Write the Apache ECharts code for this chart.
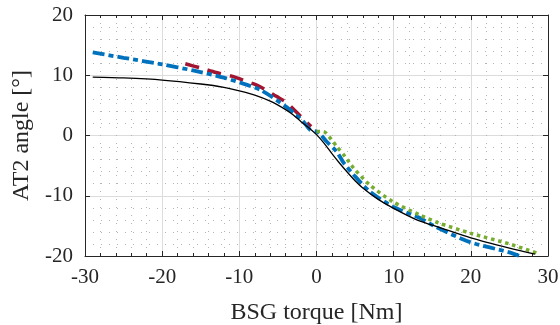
<!DOCTYPE html>
<html>
<head>
<meta charset="utf-8">
<script src="https://cdn.jsdelivr.net/npm/echarts@6/dist/echarts.min.js"></script>
<style>
  html, body { margin: 0; padding: 0; background: #fff; }
  #chart { width: 560px; height: 325px; }
</style>
</head>
<body>
<div id="chart"></div>
<script>
// BSG torque [Nm] vs AT2 angle [deg] for four cases
const blackX = [-29, -25, -20, -15, -12, -10, -8, -6, -4, -3, -2, -1, 0, 1, 2, 3, 4, 5, 6, 8, 10, 13, 16, 20, 25, 28.3];
const blackY = [9.7, 9.55, 9.2, 8.55, 8.0, 7.4, 6.7, 5.7, 4.3, 3.4, 2.3, 1.3, 0.15, -1.3, -3.0, -4.6, -6.1, -7.5, -8.7, -10.6, -12.1, -14.0, -15.3, -17.0, -18.7, -19.7];

const redX = [-17, -15, -13, -11, -9, -7.3, -5.2, -3.9, -2, -0.7];
const redY = [11.9, 11.2, 10.45, 9.85, 8.95, 8.1, 6.5, 5.5, 3.1, 1.5];

const blueX = [-29, -25, -20, -16, -12, -9, -7.3, -6, -3.4, -1.7, -0.8, 0, 0.5, 1.3, 2.6, 3.5, 4.8, 6.9, 9.9, 13.4, 15.5, 19.9, 25, 26.7];
const blueY = [13.8, 12.9, 11.8, 10.8, 9.6, 8.4, 7.6, 6.6, 4.25, 2.3, 0.9, 0.65, 0.2, -1.0, -2.65, -4.5, -6.5, -9.3, -11.8, -13.7, -15.2, -17.7, -19.4, -20.2];

const greenX = [0, 0.9, 1.95, 2.6, 3.7, 4.8, 6.9, 9.9, 13.4, 15.8, 19.9, 25, 28.5];
const greenY = [0.65, 0.65, -0.7, -1.8, -3.5, -5.4, -8.2, -11.0, -13.2, -14.5, -16.2, -18.0, -19.5];

const xTicks = [-30, -20, -10, 0, 10, 20, 30];
const yTicks = [-20, -10, 0, 10, 20];

const pairs = (xs, ys) => xs.map((x, i) => [x, ys[i]]);

const FONT = '"Liberation Serif", "Times New Roman", serif';
const AXIS_COLOR = '#262626';

const chart = echarts.init(document.getElementById('chart'), null, { renderer: 'canvas' });

const baseAxis = {
  type: 'value',
  axisLine: { show: true, onZero: false, lineStyle: { color: AXIS_COLOR, width: 1 } },
  axisTick: { show: true, inside: true, length: 5, lineStyle: { color: AXIS_COLOR } },
};

const minorGrid = { show: true, lineStyle: { color: '#b4b4b4', width: 1, type: [1, 7] } };

const lineSeries = (name, xs, ys, lineStyle, z) => ({
  type: 'line', name, data: pairs(xs, ys),
  smooth: 0.25,
  showSymbol: false, symbol: 'none', clip: true,
  lineStyle, z
});

chart.setOption({
  animation: false,
  grid: { left: 85, right: 12, top: 15, bottom: 69, containLabel: false, outerBoundsMode: 'none' },
  xAxis: [
    Object.assign({}, baseAxis, {
      position: 'bottom',
      min: xTicks[0], max: xTicks[xTicks.length - 1], interval: 10,
      minorTick: { show: true, splitNumber: 5, length: 3, lineStyle: { color: AXIS_COLOR } },
      axisLabel: { color: AXIS_COLOR, fontFamily: FONT, fontSize: 21, margin: 11 },
      splitLine: { show: true, lineStyle: { color: '#dcdcdc', width: 1 } },
      minorSplitLine: minorGrid,
      name: 'BSG torque [Nm]',
      nameLocation: 'middle',
      nameGap: 45,
      nameTextStyle: { color: AXIS_COLOR, fontFamily: FONT, fontSize: 24 }
    }),
    Object.assign({}, baseAxis, {
      position: 'top',
      min: xTicks[0], max: xTicks[xTicks.length - 1], interval: 10,
      minorTick: { show: true, splitNumber: 5, length: 3, lineStyle: { color: AXIS_COLOR } },
      axisLabel: { show: false },
      splitLine: { show: false }
    })
  ],
  yAxis: [
    Object.assign({}, baseAxis, {
      position: 'left',
      min: yTicks[0], max: yTicks[yTicks.length - 1], interval: 10,
      axisLabel: { color: AXIS_COLOR, fontFamily: FONT, fontSize: 21, margin: 12 },
      splitLine: { show: true, lineStyle: { color: '#dcdcdc', width: 1 } },
      minorTick: { show: false, splitNumber: 5 },
      minorSplitLine: minorGrid,
      name: 'AT2 angle [°]',
      nameLocation: 'middle',
      nameGap: 49,
      nameTextStyle: { color: AXIS_COLOR, fontFamily: FONT, fontSize: 24 }
    }),
    Object.assign({}, baseAxis, {
      position: 'right',
      min: yTicks[0], max: yTicks[yTicks.length - 1], interval: 10,
      axisLabel: { show: false },
      splitLine: { show: false }
    })
  ],
  series: [
    lineSeries('red', redX, redY, { color: '#A2142F', width: 3.5, type: [14, 9], cap: 'butt' }, 2),
    lineSeries('blue', blueX, blueY, { color: '#0072BD', width: 3.8, type: [12, 4, 5, 4], cap: 'butt' }, 3),
    lineSeries('green', greenX, greenY, { color: '#77AC30', width: 3.5, type: [3.5, 3.8], cap: 'butt' }, 4),
    lineSeries('black', blackX, blackY, { color: '#000000', width: 1.3 }, 5)
  ]
});
</script>
</body>
</html>
